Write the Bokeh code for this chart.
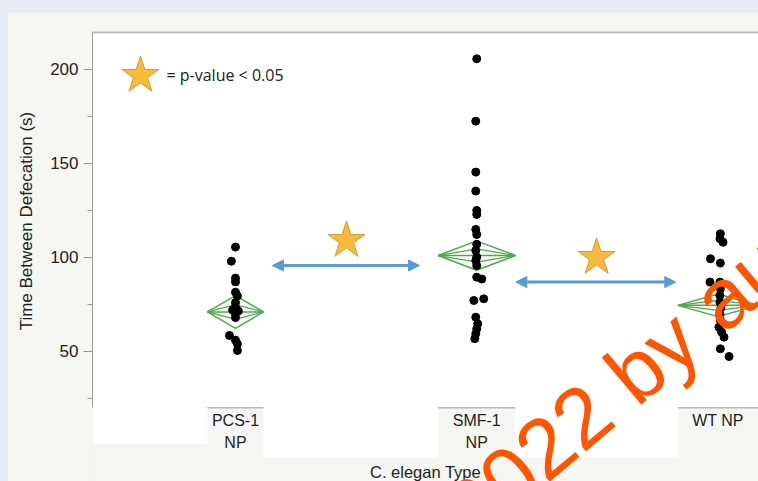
from bokeh.plotting import figure
from bokeh.models import (Range1d, FixedTicker, Arrow, NormalHead, Span,
                          ColumnDataSource, GlobalInlineStyleSheet)
from bokeh.core.properties import value
from bokeh.embed import file_html
from bokeh.resources import INLINE

# ---------------- data ----------------
categories = ["PCS-1 NP", "SMF-1 NP", "WT NP"]
category_labels = ["PCS-1\nNP", "SMF-1\nNP", "WT NP"]
category_pos = [1, 2, 3]

pcs_values = [105.5, 98.0, 89.0, 87.0, 81.5, 79.5, 76.0, 73.5, 72.0, 71.5,
              70.0, 68.0, 58.5, 56.0, 54.0, 50.5]
pcs_jitter = [0, -0.017, 0, 0, 0, 0.008, 0, 0, -0.012, 0.012,
              0, 0, -0.025, 0, 0.008, 0.008]

smf_values = [205.7, 172.5, 145.4, 135.3, 125.0, 122.9, 114.9, 112.2, 107.0,
              103.7, 100.2, 98.4, 95.7, 89.5, 88.5, 78.0, 77.1, 68.2, 64.7,
              62.0, 59.4, 56.8]
smf_jitter = [0, -0.004, -0.004, -0.004, 0, 0, -0.004, 0, 0, -0.004, 0,
              -0.004, 0, 0, 0.021, 0.029, -0.012, -0.004, 0.004, 0, -0.004,
              -0.008]

wt_values = [112.6, 110.0, 108.1, 99.3, 97.0, 86.9, 86.9, 83.4, 79.8, 76.2,
             73.2, 69.7, 66.5, 62.9, 60.3, 57.6, 51.4, 47.3]
wt_jitter = [0.010, 0.008, 0.021, -0.031, 0.010, -0.033, 0.008, 0.010, 0.008,
             0.008, 0.012, 0.008, 0.010, 0.004, 0.015, 0.025, 0.010, 0.046]

# means diamonds (mean, CI half-height, half-width in category units)
group_means = [71.0, 101.0, 74.5]
group_ci_half = [8.7, 7.8, 6.0]
group_halfwidth = [0.116, 0.160, 0.166]

# significance arrows
arrow_x_start = [1.153, 2.162]
arrow_x_end = [1.763, 2.825]
arrow_y = [95.7, 86.9]

# stars
star_x = [1.460, 2.497]
star_y = [109.0, 100.0]
key_star_x = [0.606]
key_star_y = [196.8]
key_text = ["= p-value < 0.05"]

y_ticks = [50, 100, 150, 200]
y_minor_ticks = [25, 75, 125, 175]

y_title = "Time Between Defecation (s)"
x_title = "C. elegan Type"
watermark_text = ["2022 by author"]

# ---------------- layout constants ----------------
X0, X1 = 0.4073, 3.168
Y0, Y1 = -19.2, 220.2
AXIS_BOTTOM = 20.0
PANEL = "#f6f6f3"
GREEN = "#4ea84a"
BLUE = "#5b9bd5"
FONT = "Liberation Sans"
# the axis title is centred on the whole frame by Bokeh; leading no-break
# spaces move it up so that it is centred on the drawn part of the axis
TITLE_PAD = "\u00a0" * 15

page_css = GlobalInlineStyleSheet(css=(
    "html, body { margin: 0; padding: 0; overflow: hidden; "
    "background-color: #e6eaf5; } body { padding: 12px 0 0 7px; }"))

p = figure(width=751, height=469, x_range=Range1d(X0, X1), y_range=Range1d(Y0, Y1),
           output_backend="svg", toolbar_location=None, x_axis_location=None,
           min_border_left=85, min_border_right=0, min_border_top=19,
           min_border_bottom=0)
p.stylesheets = [page_css]
p.grid.visible = False
p.outline_line_color = None
p.background_fill_color = PANEL
p.border_fill_color = PANEL

# white plot area and white gaps below axis
p.quad(left=[X0], right=[X1], bottom=[AXIS_BOTTOM], top=[Y1],
       fill_color="white", line_color=None)
p.quad(left=[X0], right=[category_pos[0] - group_halfwidth[0]],
       bottom=[1.06], top=[AXIS_BOTTOM], fill_color="white", line_color=None)
gap_l = [category_pos[i] + group_halfwidth[i] for i in range(2)]
gap_r = [category_pos[i + 1] - group_halfwidth[i + 1] for i in range(2)]
p.quad(left=gap_l, right=gap_r, bottom=[-6.4, -6.4], top=[AXIS_BOTTOM] * 2,
       fill_color="white", line_color=None)
# label box top lines
p.segment(x0=[c - h for c, h in zip(category_pos, group_halfwidth)],
          x1=[c + h for c, h in zip(category_pos, group_halfwidth)],
          y0=[AXIS_BOTTOM] * 3, y1=[AXIS_BOTTOM] * 3,
          line_color="#b5b5b5", line_width=1.5)
# frame top line
p.add_layout(Span(location=219.8, dimension="width", line_color="#b8b8b8",
                  line_width=2))

# y axis
yax = p.yaxis[0]
yax.ticker = FixedTicker(ticks=y_ticks, minor_ticks=y_minor_ticks)
yax.bounds = (AXIS_BOTTOM, Y1)
yax.axis_line_color = "#9c9c9c"
yax.major_tick_line_color = "#9c9c9c"
yax.minor_tick_line_color = "#9c9c9c"
yax.major_tick_out = 9
yax.major_tick_in = 0
yax.minor_tick_out = 5
yax.minor_tick_in = 0
yax.major_label_text_font = FONT
yax.major_label_text_font_size = "17px"
yax.major_label_text_color = "#222222"
yax.major_label_standoff = 5
yax.axis_label = TITLE_PAD + y_title
yax.axis_label_text_font = FONT
yax.axis_label_text_font_size = "17px"
yax.axis_label_text_font_style = "normal"
yax.axis_label_text_color = "#222222"
yax.axis_label_standoff = 11

# category labels and x title
p.text(x=category_pos, y=[AXIS_BOTTOM] * 3, text=category_labels,
       text_align="center", text_baseline="top", y_offset=4,
       text_font=value(FONT), text_font_size="16px", text_color="#222222",
       text_line_height=1.33)
p.text(x=[(X0 + X1) / 2], y=[-14.4], text=[x_title],
       text_align="center", text_baseline="middle",
       text_font=value(FONT), text_font_size="16.5px", text_color="#222222")

# means diamonds
for c, m, h, w in zip(category_pos, group_means, group_ci_half, group_halfwidth):
    p.patch(x=[c - w, c, c + w, c, c - w], y=[m, m + h, m, m - h, m],
            fill_color=None, line_color=GREEN, line_width=1.5)
    p.patch(x=[c - w, c, c + w, c, c - w], y=[m, m + 0.45 * h, m, m - 0.45 * h, m],
            fill_color=None, line_color=GREEN, line_width=1.2)
    p.segment(x0=[c - w], x1=[c + w], y0=[m], y1=[m], line_color=GREEN,
              line_width=1.5)

# points
for c, vals, jit in zip(category_pos, [pcs_values, smf_values, wt_values],
                        [pcs_jitter, smf_jitter, wt_jitter]):
    p.scatter(x=[c + j for j in jit], y=vals, size=8, fill_color="black",
              line_color="black")

# arrows
asrc = ColumnDataSource(dict(xs=arrow_x_start, xe=arrow_x_end, y=arrow_y))
p.add_layout(Arrow(start=NormalHead(size=11, fill_color=BLUE, line_color=BLUE),
                   end=NormalHead(size=11, fill_color=BLUE, line_color=BLUE),
                   x_start="xs", y_start="y", x_end="xe", y_end="y",
                   source=asrc, line_color=BLUE, line_width=3))

# stars
p.scatter(x=star_x + key_star_x, y=star_y + key_star_y, marker="star", size=39,
          fill_color="#f7b93e", line_color="#d49c32", line_width=1)
p.text(x=[0.714], y=key_star_y, text=key_text, text_align="left",
       text_baseline="middle", text_font=value("Open Sans"),
       text_font_size="16px", text_color="#222222")

# watermark
p.text(x=[2.81], y=[56.0], text=watermark_text, angle=0.70,
       text_align="center", text_baseline="middle", text_font=value(FONT),
       text_font_size="85px", text_color="#ff5500")

open("out.html", "w").write(file_html(p, INLINE))
